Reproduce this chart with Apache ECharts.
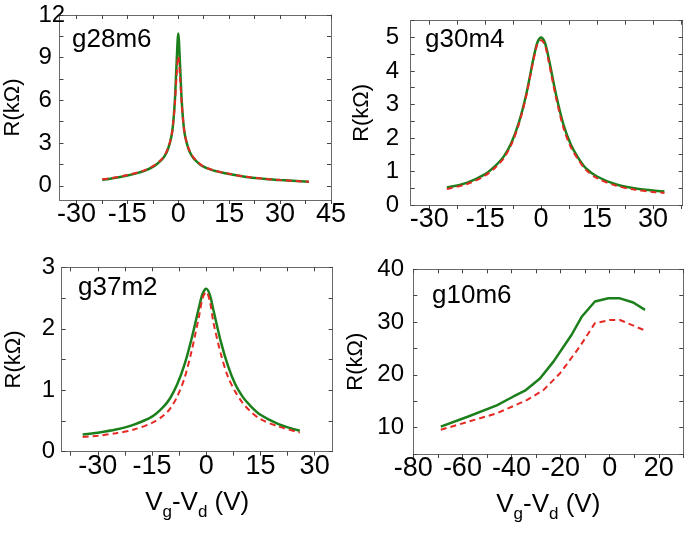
<!DOCTYPE html>
<html>
<head>
<meta charset="utf-8">
<script src="https://cdn.jsdelivr.net/npm/echarts@6/dist/echarts.min.js"></script>
<style>html,body{margin:0;padding:0;background:#fff}#c{width:685px;height:534px}</style>
</head>
<body>
<div id="c"></div>
<script>
// ---------- data ----------
const panelNames = ['g28m6', 'g30m4', 'g37m2', 'g10m6'];

const g28m6_x     = [-22.4,-20,-15,-10,-7,-5,-4,-3,-2,-1.5,-1,-0.5,0,0.5,1,1.5,2,3,4,5,7,10,15,20,25,30,38.5];
const g28m6_green = [0.42,0.5,0.72,1.05,1.4,1.8,2.1,2.6,3.5,4.4,6.0,8.6,10.7,8.6,6.0,4.4,3.5,2.6,2.1,1.8,1.4,1.1,0.82,0.62,0.5,0.4,0.28];
const g28m6_red   = [0.45,0.53,0.75,1.08,1.45,1.85,2.15,2.65,3.5,4.4,5.8,7.7,9.1,7.7,5.8,4.4,3.5,2.65,2.15,1.85,1.42,1.12,0.84,0.63,0.5,0.4,0.28];

const g30m4_x     = [-25.3,-20,-15,-12,-10,-8,-6,-4,-2,-1,0,1,2,4,6,8,10,12,15,20,25,30,33.1];
const g30m4_green = [0.52,0.66,0.92,1.2,1.45,1.85,2.45,3.3,4.4,4.85,5.0,4.85,4.4,3.3,2.4,1.8,1.4,1.1,0.85,0.62,0.5,0.43,0.4];
const g30m4_red   = [0.48,0.62,0.88,1.15,1.4,1.8,2.4,3.25,4.35,4.8,4.92,4.78,4.3,3.2,2.3,1.72,1.35,1.05,0.8,0.58,0.46,0.39,0.36];

const g37m2_x     = [-34.2,-30,-25,-20,-15,-12,-10,-8,-6,-4,-2,-1,0,1,2,4,6,8,10,12,15,20,25.9];
const g37m2_green = [0.28,0.31,0.36,0.44,0.57,0.72,0.87,1.1,1.42,1.85,2.35,2.57,2.65,2.55,2.3,1.8,1.4,1.1,0.9,0.76,0.6,0.45,0.34];
const g37m2_red   = [0.24,0.26,0.3,0.36,0.47,0.58,0.7,0.9,1.2,1.65,2.2,2.5,2.6,2.45,2.1,1.6,1.22,0.98,0.8,0.67,0.53,0.41,0.31];

const g10m6_x_green = [-68.8,-57.6,-46,-39.2,-34.5,-28.4,-22.9,-15.5,-11.4,-6,-0.5,4.2,9.6,14.4];
const g10m6_green   = [10.2,12.1,14.2,15.9,17.0,19.3,22.5,27.6,31.0,33.9,34.5,34.5,33.7,32.3];
const g10m6_x_red   = [-68.8,-46,-33.8,-27,-20.2,-12.1,-6,0.1,4.2,14.4];
const g10m6_red     = [9.6,12.7,15.2,17.1,20.3,25.4,29.8,30.4,30.4,28.4];

// tick labels
const xLabels = [[-30,-15,0,15,30,45],[-30,-15,0,15,30],[-30,-15,0,15,30],[-80,-60,-40,-20,0,20]];
const yLabels = [[0,3,6,9,12],[0,1,2,3,4,5],[0,1,2,3],[10,20,30,40]];
const xTicks  = [[-30,-22.5,-15,-7.5,0,7.5,15,22.5,30,37.5,45],[-30,-22.5,-15,-7.5,0,7.5,15,22.5,30,37.5],[-37.5,-30,-22.5,-15,-7.5,0,7.5,15,22.5,30],[-80,-70,-60,-50,-40,-30,-20,-10,0,10,20,30]];
const yTicks  = [[0,1.5,3,4.5,6,7.5,9,10.5,12],[0,0.5,1,1.5,2,2.5,3,3.5,4,4.5,5,5.5],[0,0.5,1,1.5,2,2.5,3],[5,10,15,20,25,30,35,40]];
const xRanges = [[-35,45],[-35,38],[-40,35],[-80,30]];
const yRanges = [[-1,12],[0,5.5],[0,3],[5,40]];
const yName = 'R(kΩ)';

// ---------- layout / style ----------
const FONT = "'Liberation Sans', Arial, sans-serif";
const GREEN = '#1b7f1b', RED = '#e52a24', AXIS = '#6a6a6a';
const grids = [
  {left: 59.5, top: 15, width: 271.5, height: 185},
  {left: 410.7, top: 20.7, width: 272, height: 184.3},
  {left: 61.7, top: 267.3, width: 271, height: 184.4},
  {left: 413.3, top: 269.3, width: 270, height: 184.7}
];
const yNameGaps = [36, 38, 37, 46];
const yLabelMargins = [21, 25, 20, 36];
const labelPos = [[72, 27], [425, 27], [78, 275], [432, 283]];

const xAxis = [], yAxis = [], series = [], title = [];
grids.forEach((g, i) => {
  const showXName = i >= 2;
  xAxis.push({
    type: 'value', gridIndex: i, min: xRanges[i][0], max: xRanges[i][1], position: 'bottom',
    axisLine: {onZero: false, lineStyle: {color: AXIS, width: 1}},
    axisTick: {customValues: xTicks[i], inside: false, length: 4, lineStyle: {color: '#444'}},
    axisLabel: {customValues: xLabels[i], fontSize: 27, color: '#000', margin: 1, fontFamily: FONT},
    splitLine: {show: false},
    name: showXName ? '{n|V}{s|g}{n|-V}{s|d}{n| (V)}' : '',
    nameLocation: 'middle', nameGap: 38,
    nameTextStyle: {
      fontFamily: FONT, color: '#000',
      rich: {
        n: {fontSize: 26, fontFamily: FONT, color: '#000', verticalAlign: 'top', lineHeight: 28},
        s: {fontSize: 17, fontFamily: FONT, color: '#000', verticalAlign: 'top', lineHeight: 19, padding: [14, 0, 0, 0]}
      }
    }
  });
  xAxis.push({
    type: 'value', gridIndex: i, min: xRanges[i][0], max: xRanges[i][1], position: 'top',
    axisLine: {onZero: false, lineStyle: {color: AXIS, width: 1}},
    axisTick: {customValues: xTicks[i], inside: true, length: 4, lineStyle: {color: '#444'}},
    axisLabel: {show: false}, splitLine: {show: false}
  });
  yAxis.push({
    type: 'value', gridIndex: i, min: yRanges[i][0], max: yRanges[i][1], position: 'left',
    axisLine: {onZero: false, show: true, lineStyle: {color: AXIS, width: 1}},
    axisTick: {show: true, customValues: yTicks[i], inside: true, length: 4, lineStyle: {color: '#444'}},
    axisLabel: {customValues: yLabels[i], fontSize: 24, color: '#000', margin: yLabelMargins[i], align: 'left', fontFamily: FONT},
    splitLine: {show: false},
    name: yName, nameLocation: 'middle', nameRotate: 90, nameGap: yNameGaps[i],
    nameTextStyle: {fontSize: 22, fontFamily: FONT, color: '#000'}
  });
  yAxis.push({
    type: 'value', gridIndex: i, min: yRanges[i][0], max: yRanges[i][1], position: 'right',
    axisLine: {onZero: false, show: true, lineStyle: {color: AXIS, width: 1}},
    axisTick: {show: true, customValues: yTicks[i], inside: true, length: 4, lineStyle: {color: '#444'}},
    axisLabel: {show: false}, splitLine: {show: false}
  });
  title.push({
    text: panelNames[i], left: labelPos[i][0], top: labelPos[i][1], padding: 0,
    textStyle: {fontSize: 26, fontWeight: 'normal', fontFamily: FONT, color: '#000'}
  });
});

function zip(xs, ys) { return xs.map((x, k) => [x, ys[k]]); }
const curves = [
  [zip(g28m6_x, g28m6_green), zip(g28m6_x, g28m6_red)],
  [zip(g30m4_x, g30m4_green), zip(g30m4_x, g30m4_red)],
  [zip(g37m2_x, g37m2_green), zip(g37m2_x, g37m2_red)],
  [zip(g10m6_x_green, g10m6_green), zip(g10m6_x_red, g10m6_red)]
];
curves.forEach((c, i) => {
  const smooth = i < 3 ? 0.3 : false;
  series.push({
    type: 'line', xAxisIndex: 2 * i, yAxisIndex: 2 * i, data: c[0], showSymbol: false, symbol: 'none',
    smooth: smooth, lineStyle: {color: GREEN, width: 2.5}, animation: false, z: 2
  });
  series.push({
    type: 'line', xAxisIndex: 2 * i, yAxisIndex: 2 * i, data: c[1], showSymbol: false, symbol: 'none',
    smooth: smooth, lineStyle: {color: RED, width: 2, type: [6, 4]}, animation: false, z: 3
  });
});

const chart = echarts.init(document.getElementById('c'), null, {renderer: 'canvas'});
chart.setOption({
  backgroundColor: '#fff',
  animation: false,
  title: title,
  grid: grids.map(g => Object.assign({containLabel: false}, g)),
  xAxis: xAxis,
  yAxis: yAxis,
  series: series
});
</script>
</body>
</html>
